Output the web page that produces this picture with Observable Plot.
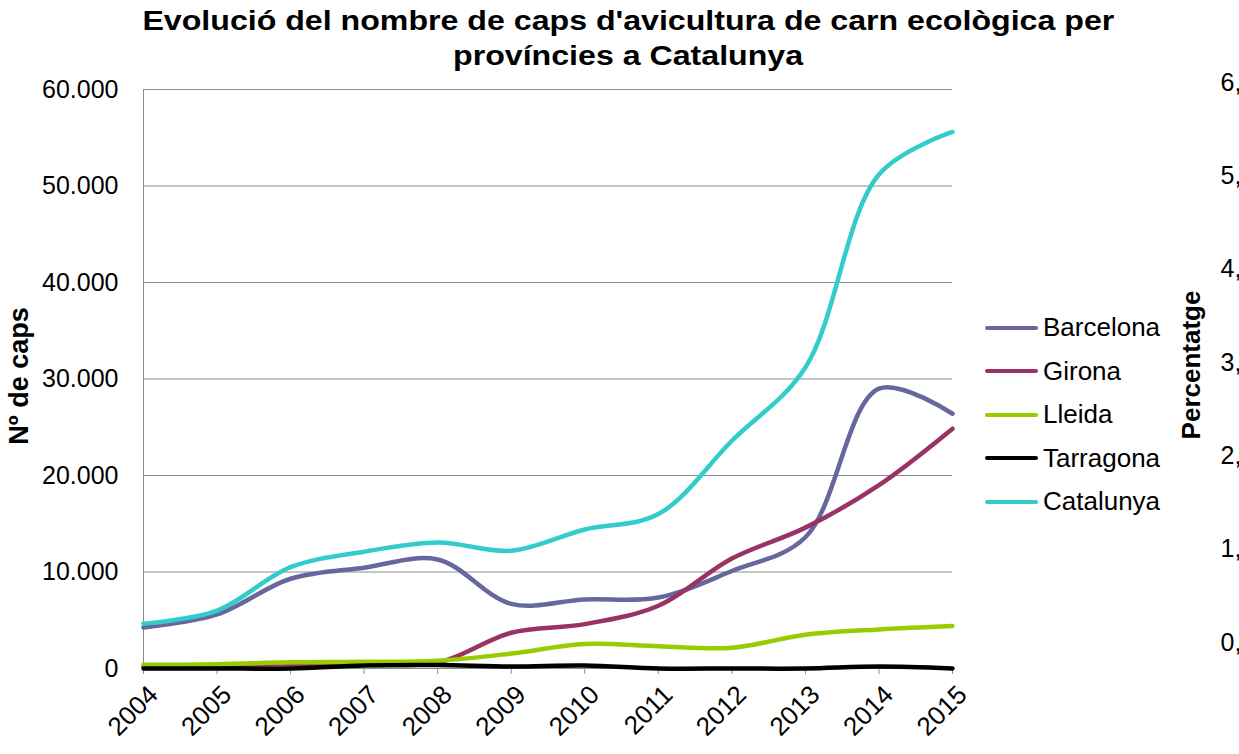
<!DOCTYPE html>
<html>
<head>
<meta charset="utf-8">
<script src="https://cdn.jsdelivr.net/npm/d3@7"></script>
<script src="https://cdn.jsdelivr.net/npm/@observablehq/plot@0.6"></script>
<style>
  html, body { margin: 0; padding: 0; background: #fff; overflow: hidden; }
  #wrap { position: relative; width: 1239px; height: 754px; overflow: hidden; font-family: Arial, "Liberation Sans", sans-serif; }
  #title { position: absolute; left: 0; top: 4px; width: 1256px; text-align: center; font-weight: bold; font-size: 27px; line-height: 35px; color: #000; }
  #title span { display: inline-block; transform: scaleX(1.19); transform-origin: center; white-space: nowrap; }
  #main { position: absolute; left: 0; top: 75px; }
  #right { position: absolute; left: 0; top: 0; }
  .ylab { position: absolute; font-weight: bold; white-space: nowrap; transform: translate(-50%, -50%) rotate(-90deg); }
  #legend { position: absolute; left: 985px; top: 306px; font-size: 26px; }
  .lrow { height: 43.5px; display: flex; align-items: center; }
  .lline { width: 53px; height: 4px; border-radius: 2px; margin-right: 5px; }
</style>
</head>
<body>
<div id="wrap">
  <div id="title"><span>Evolució del nombre de caps d'avicultura de carn ecològica per</span><br><span>províncies a Catalunya</span></div>
  <div id="main"></div>
  <div id="right"></div>
  <div class="ylab" style="left:19px; top:376px; font-size:27px;">Nº de caps</div>
  <div class="ylab" style="left:1191px; top:365px; font-size:26px;">Percentatge</div>
  <div id="legend"></div>
</div>
<script>
const years = [2004, 2005, 2006, 2007, 2008, 2009, 2010, 2011, 2012, 2013, 2014, 2015];
const seriesNames = ["Barcelona", "Girona", "Lleida", "Tarragona", "Catalunya"];
const seriesColors = ["#67679f", "#993366", "#99cc00", "#000000", "#33cccc"];
const barcelona = [4250, 5600, 9300, 10450, 11300, 6700, 7150, 7350, 10100, 13600, 29000, 26400];
const girona    = [200, 300, 450, 500, 600, 3700, 4600, 6500, 11400, 14600, 19000, 24850];
const lleida    = [400, 450, 650, 700, 800, 1550, 2550, 2300, 2150, 3500, 4050, 4400];
const tarragona = [0, 0, 0, 300, 350, 200, 300, 0, 0, 0, 200, 0];
const catalunya = [4650, 6000, 10500, 12100, 13050, 12200, 14400, 16000, 23600, 31200, 51200, 55600];
const yTicks = [0, 10000, 20000, 30000, 40000, 50000, 60000];
const pctTicks = [0, 1, 2, 3, 4, 5, 6];

const seriesValues = [barcelona, girona, lleida, tarragona, catalunya];
const data = [];
seriesNames.forEach((name, i) => {
  years.forEach((yr, j) => data.push({series: name, year: yr, value: seriesValues[i][j]}));
});

const loc = d3.formatLocale({decimal: ",", thousands: ".", grouping: [3], currency: ["", ""]});
const fmtThousands = loc.format(",");

const font = 'Arial, "Liberation Sans", sans-serif';

const main = Plot.plot({
  width: 1239,
  height: 679,
  marginLeft: 143,
  marginRight: 287,
  marginTop: 14,
  marginBottom: 86,
  style: {fontFamily: font, fontSize: "25px", color: "#000", background: "transparent"},
  x: {type: "linear", domain: [2004, 2015]},
  y: {domain: [0, 60000]},
  color: {domain: seriesNames, range: seriesColors},
  marks: [
    Plot.gridY(yTicks, {stroke: "#8c8c8c", strokeOpacity: 1, strokeWidth: 1}),
    Plot.ruleX([2004], {stroke: "#8c8c8c", strokeWidth: 1}),
    Plot.ruleY([0], {stroke: "#8c8c8c", strokeWidth: 1}),
    Plot.axisY(yTicks, {tickSize: 0, tickPadding: 25, tickFormat: d => fmtThousands(d), label: null, fill: "#000"}),
    Plot.axisX(years, {tickSize: 6, tickPadding: 0, tickRotate: -45, tickFormat: d => String(d), label: null, stroke: "#8c8c8c", fill: "#000", fontSize: 26}),
    Plot.line(data, {x: "year", y: "value", z: "series", stroke: "series", curve: "catmull-rom", strokeWidth: 4.5, strokeLinejoin: "round", strokeLinecap: "round"})
  ]
});
// shift rotated year labels down/right to match reference placement
main.querySelectorAll('g[aria-label="x-axis tick label"] text').forEach(t => {
  const tr = t.getAttribute("transform") || "";
  t.setAttribute("transform", "translate(10,16) " + tr);
});
document.getElementById("main").appendChild(main);

const right = Plot.plot({
  width: 1239,
  height: 754,
  marginLeft: 0,
  marginRight: 27,
  marginTop: 82,
  marginBottom: 112,
  style: {fontFamily: font, fontSize: "25px", color: "#000", background: "transparent"},
  y: {domain: [0, 6]},
  marks: [
    Plot.axisY(pctTicks, {anchor: "right", tickSize: 0, tickPadding: 8, tickFormat: d => d.toFixed(1).replace(".", ",") + "%", label: null, fill: "#000"})
  ]
});
document.getElementById("right").appendChild(right);

const legend = document.getElementById("legend");
seriesNames.forEach((name, i) => {
  const row = document.createElement("div");
  row.className = "lrow";
  const ln = document.createElement("div");
  ln.className = "lline";
  ln.style.background = seriesColors[i];
  const tx = document.createElement("span");
  tx.textContent = name;
  row.appendChild(ln);
  row.appendChild(tx);
  legend.appendChild(row);
});
</script>
</body>
</html>
